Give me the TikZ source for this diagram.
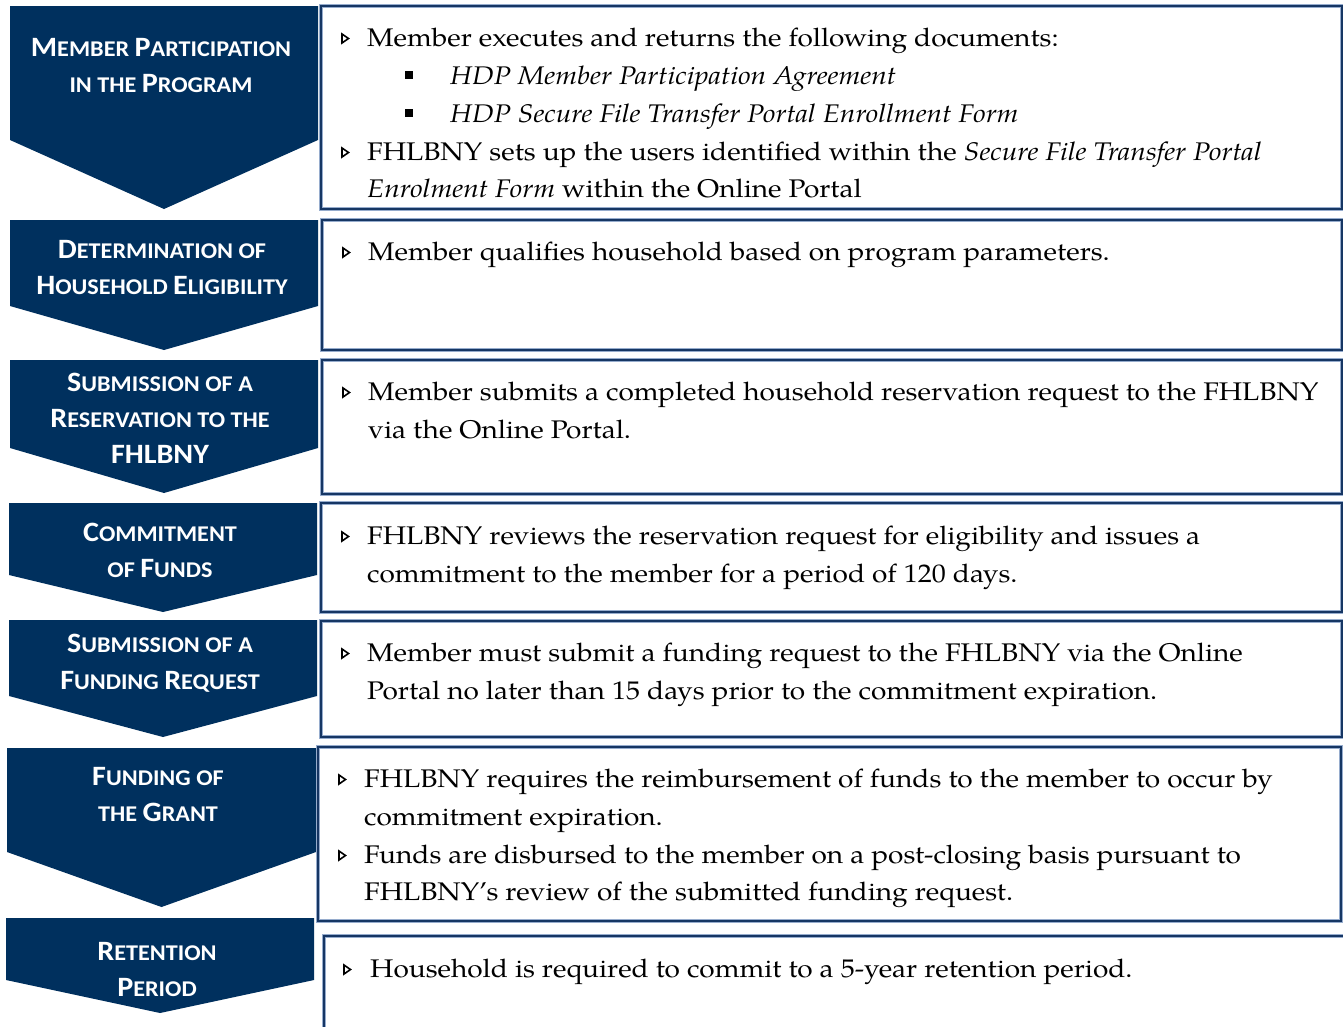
\documentclass[tikz,border=0pt]{standalone}
\usepackage{fontspec}
\setmainfont{TeX Gyre Pagella}[FakeStretch=1.1]
\newfontfamily\calib{Carlito}[FakeStretch=1.075]
\definecolor{navy}{RGB}{0,48,94}
\definecolor{edge}{RGB}{22,54,100}
\definecolor{lightedge}{RGB}{150,172,205}
\newcommand\B[1]{{\fontsize{28}{30}\selectfont #1}}
\tikzset{
  x=1pt, y=-1pt,
  chev/.style={fill=navy},
  box/.style={draw=edge, line width=1.9pt, preaction={draw=lightedge, line width=3.4pt}},
  ttl/.style={text=white, font=\calib\bfseries\fontsize{22.5}{24}\selectfont, anchor=base, inner sep=0pt},
  body/.style={anchor=base west, inner sep=0pt, font=\fontsize{25.5}{30}\selectfont},
  tribul/.style={draw=black, line width=1.6pt, line join=miter},
  sqbul/.style={fill=black}
}
\newcommand\tbul[2]{\draw[tribul] (#1,{#2-12}) -- ({#1+6.5},{#2-7.5}) -- (#1,{#2-3}) -- cycle;}
\newcommand\sbul[2]{\fill[sqbul] (#1,{#2-13}) rectangle ({#1+8},{#2-5});}
\begin{document}
\begin{tikzpicture}
\useasboundingbox[fill=white] (0,0) rectangle (1343,1026);
% chevrons
\fill[chev] (10,6) -- (318,6) -- (318,140) -- (164,209) -- (10,140) -- cycle;
\fill[chev] (10,220) -- (318,220) -- (318,306) -- (164,350) -- (10,306) -- cycle;
\fill[chev] (10,360) -- (318,360) -- (318,448) -- (164,493) -- (10,448) -- cycle;
\fill[chev] (9,503) -- (317,503) -- (317,575) -- (163,612) -- (9,575) -- cycle;
\fill[chev] (9,620) -- (317,620) -- (317,696) -- (163,737) -- (9,696) -- cycle;
\fill[chev] (7,748) -- (316,748) -- (316,852) -- (161.5,907) -- (7,852) -- cycle;
\fill[chev] (6,918) -- (314,918) -- (314,980) -- (160,1013) -- (6,980) -- cycle;
% boxes
\draw[box] (321,6) rectangle (1342,209);
\draw[box] (322,220) rectangle (1342,350);
\draw[box] (322,360) rectangle (1342,494);
\draw[box] (321,503) rectangle (1342,612);
\draw[box] (321,621) rectangle (1342,737);
\draw[box] (318,747) rectangle (1341,921);
\draw[box] (324,936) rectangle (1352,1036);
% titles
\node[ttl] (t1a) at (161,56) {\B{M}EMBER \B{P}ARTICIPATION};
\node[ttl] (t1b) at (161,92) {IN THE \B{P}ROGRAM};
\node[ttl] (t2a) at (162,258) {\B{D}ETERMINATION OF};
\node[ttl] (t2b) at (162,294) {\B{H}OUSEHOLD \B{E}LIGIBILITY};
\node[ttl] (t3a) at (160,391) {\B{S}UBMISSION OF A};
\node[ttl] (t3b) at (160,427) {\B{R}ESERVATION TO THE};
\node[ttl] (t3c) at (160,463) {\B{FHLBNY}};
\node[ttl] (t4a) at (160,541) {\B{C}OMMITMENT};
\node[ttl] (t4b) at (160,577) {OF \B{F}UNDS};
\node[ttl] (t5a) at (160,652) {\B{S}UBMISSION OF A};
\node[ttl] (t5b) at (160,689) {\B{F}UNDING \B{R}EQUEST};
\node[ttl] (t6a) at (158,785) {\B{F}UNDING OF};
\node[ttl] (t6b) at (158,821) {THE \B{G}RANT};
\node[ttl] (t7a) at (157,960) {\B{R}ETENTION};
\node[ttl] (t7b) at (157,996) {\B{P}ERIOD};
% box 1
\tbul{342}{46}
\node[body] (b1a) at (367,46) {Member executes and returns the following documents:};
\sbul{405}{84}
\node[body] (b1b) at (450,84) {\textit{HDP Member Participation Agreement}};
\sbul{405}{122}
\node[body] (b1c) at (450,122) {\textit{HDP Secure File Transfer Portal Enrollment Form}};
\tbul{342}{160}
\node[body] (b1d) at (367,160) {FHLBNY sets up the users identified within the \textit{Secure File Transfer Portal}};
\node[body] (b1e) at (367,197) {\textit{Enrolment Form} within the Online Portal};
% box 2
\tbul{343}{260}
\node[body] (b2a) at (368,260) {Member qualifies household based on program parameters.};
% box 3
\tbul{343}{400}
\node[body] (b3a) at (368,400) {Member submits a completed household reservation request to the FHLBNY};
\node[body] (b3b) at (368,438) {via the Online Portal.};
% box 4
\tbul{342}{544}
\node[body] (b4a) at (367,544) {FHLBNY reviews the reservation request for eligibility and issues a};
\node[body] (b4b) at (367,582) {commitment to the member for a period of 120 days.};
% box 5
\tbul{342}{661}
\node[body] (b5a) at (367,661) {Member must submit a funding request to the FHLBNY via the Online};
\node[body] (b5b) at (367,699) {Portal no later than 15 days prior to the commitment expiration.};
% box 6
\tbul{339}{787}
\node[body] (b6a) at (364,787) {FHLBNY requires the reimbursement of funds to the member to occur by};
\node[body] (b6b) at (364,825) {commitment expiration.};
\tbul{339}{863}
\node[body] (b6c) at (364,863) {Funds are disbursed to the member on a post-closing basis pursuant to};
\node[body] (b6d) at (364,900) {FHLBNY’s review of the submitted funding request.};
% box 7
\tbul{344}{977}
\node[body] (b7a) at (370,977) {Household is required to commit to a 5-year retention period.};
\end{tikzpicture}
\end{document}
